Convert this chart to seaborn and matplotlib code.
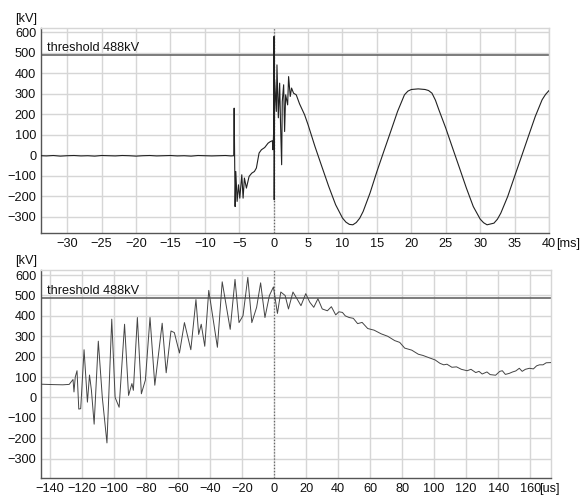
import seaborn as sns
import matplotlib.pyplot as plt

# top trace: full record [ms] / [kV]
t_ms = [-33.8, -33.0, -32.0, -31.0, -30.0, -29.0, -28.0, -27.0, -26.0, -25.0,
        -24.0, -23.0, -22.0, -21.0, -20.0, -19.0, -18.0, -17.0, -16.0, -15.0,
        -14.0, -13.0, -12.0, -11.0, -10.0, -9.0, -8.0, -7.0, -6.2, -5.8,
        -5.74, -5.60, -5.50, -5.31, -5.11, -4.92, -4.63, -4.44, -4.25, -3.96,
        -3.57, -3.18, -2.80, -2.51, -2.12, -1.78, -1.30, -0.82, -0.48, -0.19,
        -0.10, 0.0, 0.05, 0.08, 0.14, 0.39, 0.48, 0.68, 0.87, 1.0,
        1.16, 1.25, 1.45, 1.59, 1.74, 2.03, 2.17, 2.41, 2.60, 2.89,
        3.28, 3.76, 4.49, 5.0, 6.0, 7.0, 8.0, 9.0, 10.0, 10.5, 11.0,
        11.5, 12.0, 12.5, 13.0, 14.0, 15.0, 16.0, 17.0, 18.0, 19.0, 19.5, 20.0,
        21.0, 22.0, 22.5, 23.0, 23.5, 24.0, 25.0, 26.0, 27.0, 28.0, 29.0, 30.0, 30.5,
        31.0, 32.0, 32.5, 33.0, 34.0, 35.0, 36.0, 37.0, 38.0, 39.0, 39.5, 40.0]
v_ms = [-3, -4, -2, -5, -3, -2, -4, -3, -5, -2,
        -3, -4, -2, -3, -5, -3, -2, -4, -3, -2,
        -4, -3, -5, -2, -3, -4, -3, -2, -4, -3,
        229, -251, -80, -226, -145, -210, -96, -210, -112, -161,
        -104, -88, -80, -63, 10, 26, 37, 58, 66, 70,
        26, 115, 579, -218, 367, 213, 440, 182, 351, 150,
        -47, 261, 343, 115, 294, 245, 383, 286, 327, 302,
        294, 250, 197, 148, 42, -56, -153, -242, -307, -327, -338,
        -340, -329, -308, -275, -185, -80, 18, 115, 213, 294, 312, 320,
        323, 320, 315, 302, 268, 221, 132, 34, -63, -161, -251, -312, -330,
        -340, -332, -313, -283, -202, -104, -7, 91, 188, 270, 296, 315]

# bottom trace: zoom around the trigger [us] / [kV]
t_us = [-145.6, -138, -132, -128, -125.6, -125.0, -124.2, -123.1, -122.0, -120.8,
        -118.7, -116.6, -115.3, -114.1, -112.4, -109.8, -107.3, -104.4, -101.4, -99.3,
        -96.8, -93.4, -90.9, -88.8, -87.9, -85.4, -82.9, -80.4, -77.5, -74.5,
        -69.9, -67.4, -64.4, -62.3, -59.1, -56.0, -52.0, -48.8, -47.1, -45.5,
        -43.3, -40.8, -35.4, -32.4, -27.4, -24.4, -21.9, -19.4, -16.4, -13.9,
        -10.9, -8.4, -5.7, -2.9, -0.4, 2.1, 4.2, 6.9, 9.0, 11.8,
        14.3, 16.8, 19.8, 22.3, 24.8, 27.4, 30.1, 33.3, 35.8, 38.5,
        40.5, 42.7, 44.5, 46.9, 49.5, 52.2, 55.0, 58.5, 62.5, 66.9,
        71.0, 75.3, 78.5, 81.6, 86.0, 90.1, 93.0, 96.4, 100.6, 103.7,
        106.0, 108.0, 111.1, 114.0, 117.0, 120.6, 123.0, 126.0, 128.0, 130.0,
        133.0, 135.0, 138.4, 141.0, 142.6, 144.5, 146.9, 149.0, 151.0, 153.2,
        155.0, 157.0, 159.5, 162.0, 164.0, 165.8, 168.0, 170.0, 173.0]
v_us = [65, 63, 62, 64, 88, 27, 100, 131, -57, -55,
        234, -23, 110, 35, -131, 276, 0, -223, 384, 0,
        -48, 359, 10, 68, 35, 392, 18, 85, 392, 60,
        364, 121, 326, 318, 218, 367, 234, 480, 309, 359,
        251, 525, 246, 567, 334, 579, 367, 401, 589, 367,
        442, 562, 392, 500, 542, 412, 517, 500, 434, 517,
        484, 450, 509, 467, 442, 484, 434, 425, 445, 405,
        420, 417, 400, 392, 388, 362, 368, 338, 330, 312,
        300, 279, 270, 242, 232, 212, 206, 196, 184, 167,
        160, 163, 148, 150, 138, 131, 138, 122, 128, 115,
        125, 112, 109, 128, 131, 113, 118, 125, 130, 143,
        128, 138, 143, 140, 155, 160, 160, 170, 171]

threshold = 488
y_ticks = [-300, -200, -100, 0, 100, 200, 300, 400, 500, 600]
ms_ticks = [-30, -25, -20, -15, -10, -5, 0, 5, 10, 15, 20, 25, 30, 35, 40]
us_ticks = [-140, -120, -100, -80, -60, -40, -20, 0, 20, 40, 60, 80, 100, 120, 140, 160]

sns.set_style('white')
plt.rcParams['font.family'] = ['Liberation Sans', 'DejaVu Sans']
fs = 9.2

fig = plt.figure(figsize=(5.83, 4.95), dpi=100)
ax1 = fig.add_axes([41 / 583, 1 - 233 / 495, 508 / 583, 205 / 495])
ax2 = fig.add_axes([41 / 583, 1 - 478 / 495, 510 / 583, 208 / 495])


def style_axes(ax, xt, xlim, ylim, unit, unit_off):
    ax.set_xlim(*xlim)
    ax.set_ylim(*ylim)
    ax.set_xticks(xt)
    ax.set_yticks(y_ticks)
    ax.grid(True, color='#d6d6d6', lw=1.0)
    ax.set_axisbelow(True)
    for s in ['top', 'right']:
        ax.spines[s].set_color('#d6d6d6')
        ax.spines[s].set_linewidth(1.0)
    for s in ['left', 'bottom']:
        ax.spines[s].set_color('#555555')
        ax.spines[s].set_linewidth(1.0)
    ax.tick_params(axis='both', length=3, width=0.8, color='#555555',
                   pad=0.5, labelsize=fs, labelcolor='#111111')
    ax.set_xlabel('')
    ax.set_ylabel('')
    ax.axhline(threshold, color='#666666', lw=1.2, zorder=2)
    ax.axvline(0, color='#666666', lw=0.9, ls=(0, (1, 1.5)), zorder=2)
    ax.annotate('threshold 488kV', xy=(0, threshold), xycoords=('axes fraction', 'data'),
                xytext=(4, 1.0), textcoords='offset points', ha='left', va='bottom',
                fontsize=fs, color='#111111')
    ax.annotate('[kV]', xy=(0, 1), xycoords='axes fraction', xytext=(-3, 2),
                textcoords='offset points', ha='right', va='bottom',
                fontsize=fs, color='#111111')
    ax.annotate(unit, xy=(xt[-1], 0), xycoords=('data', 'axes fraction'),
                xytext=(unit_off, -3.5), textcoords='offset points', ha='left', va='top',
                fontsize=fs, color='#111111')


sns.lineplot(x=t_ms, y=v_ms, ax=ax1, color='#222222', lw=0.8,
             estimator=None, sort=False, zorder=3)
style_axes(ax1, ms_ticks, (-33.8, 40), (-380, 620), '[ms]', 5)

sns.lineplot(x=t_us, y=v_us, ax=ax2, color='#444444', lw=0.7,
             estimator=None, sort=False, zorder=3)
style_axes(ax2, us_ticks, (-145.6, 173), (-395, 625), '[us]', 6.5)

fig.savefig('out.png', dpi=100)
